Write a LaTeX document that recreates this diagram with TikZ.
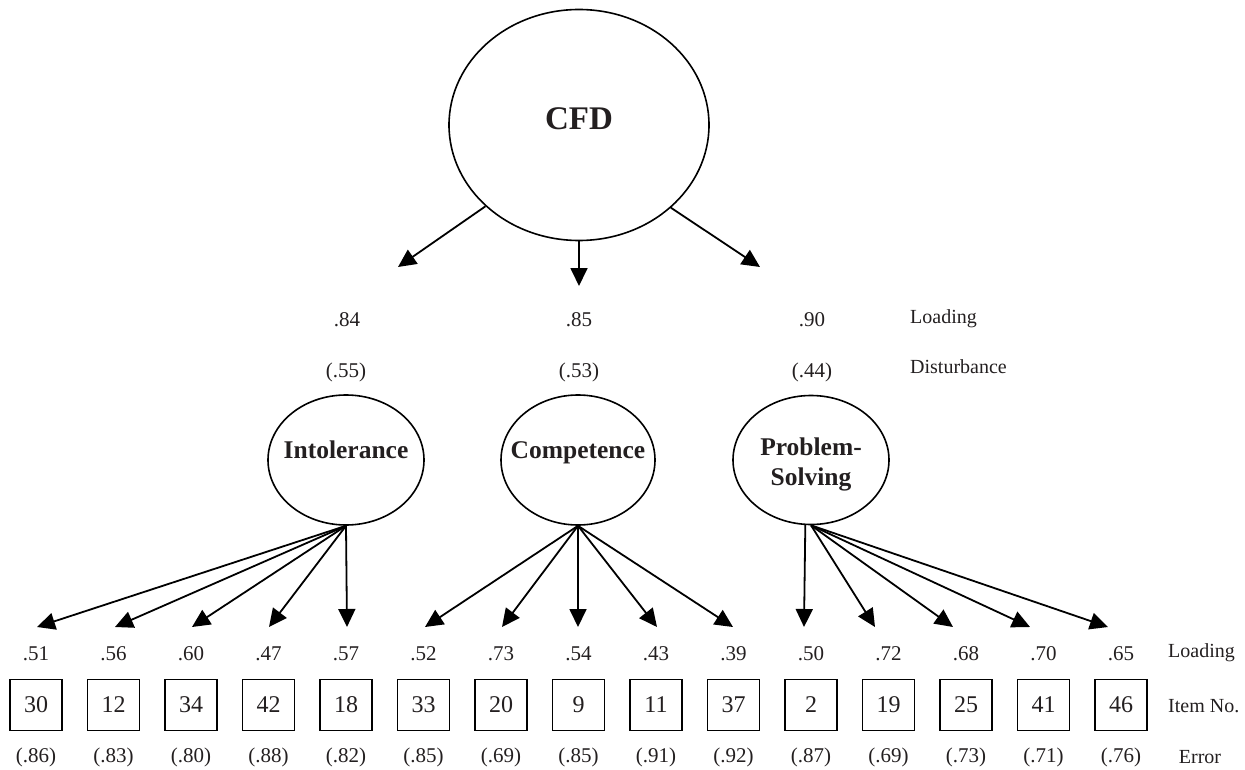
\documentclass[tikz,border=0pt]{standalone}
\usepackage{fontspec}
\setmainfont{Liberation Serif}
\usetikzlibrary{shapes.geometric,arrows.meta}
\definecolor{ink}{HTML}{231F20}
\begin{document}
\begin{tikzpicture}[x=1pt,y=-1pt,
  lat/.style={ellipse,draw,line width=1.6pt,inner sep=0pt},
  item/.style={rectangle,draw,line width=1.6pt,minimum width=52pt,minimum height=51pt,inner sep=0pt,font=\fontsize{24}{28}\selectfont,text=ink},
  num/.style={font=\fontsize{21}{25}\selectfont,text=ink,inner sep=0pt},
  lbl/.style={font=\fontsize{20}{24}\selectfont,text=ink,inner sep=0pt},
  lname/.style={font=\fontsize{25.5}{30}\bfseries\selectfont,text=ink,align=center,inner sep=0pt},
  arr/.style={line width=1.8pt,-{Triangle[length=18pt,width=17pt]}}
]
\useasboundingbox (0,0) rectangle (1245,770);

% top factor
\node[lat,minimum width=260pt,minimum height=231pt] (cfd) at (579,125) {};
\node[font=\fontsize{33}{38}\bfseries\selectfont,text=ink] (cfdt) at (579,119) {CFD};

% first-order factors
\node[lat,minimum width=156pt,minimum height=130pt] (int) at (346,460) {};
\node[lname] (intt) at (346,450) {Intolerance};
\node[lat,minimum width=154pt,minimum height=130pt] (com) at (578,460) {};
\node[lname] (comt) at (578,453) {Competence};
\node[lat,minimum width=156pt,minimum height=129pt] (ps) at (811,460) {};
\node[lname] (pst) at (811,464) {Problem-\\Solving};

% arrows from CFD
\coordinate (t1) at (398,267);
\coordinate (t2) at (579,286);
\coordinate (t3) at (760,267);
\draw[arr] (cfd.221.4) -- (t1);
\draw[arr] (cfd.south) -- (t2);
\draw[arr] (cfd.318.6) -- (t3);

% upper labels
\node[num] (l84) at (347,320) {.84};
\node[num] (l85) at (579,320) {.85};
\node[num] (l90) at (812,320) {.90};
\node[num] (d55) at (346,372) {(.55)};
\node[num] (d53) at (579,372) {(.53)};
\node[num] (d44) at (812,372) {(.44)};
\node[lbl,anchor=west] (loadU) at (910,319) {Loading};
\node[lbl,anchor=west] (dist) at (910,367) {Disturbance};

% arrow tips above items
\foreach \i/\x in {1/37,2/115,3/192,4/269,5/347,6/425,7/502,8/578,9/657,10/733,11/804,12/875,13/953,14/1030,15/1108}
  \coordinate (a\i) at (\x,627);

\foreach \i in {1,...,5} \draw[arr] (int.south) -- (a\i);
\foreach \i in {6,...,10} \draw[arr] (com.south) -- (a\i);
\draw[arr] (ps.265) -- (a11);
\foreach \i in {12,...,15} \draw[arr] (ps.south) -- (a\i);

% items
\foreach \i/\ld/\it/\er [evaluate=\i as \xx using 36+77.5*(\i-1)] in
  {1/.51/30/(.86), 2/.56/12/(.83), 3/.60/34/(.80), 4/.47/42/(.88), 5/.57/18/(.82),
   6/.52/33/(.85), 7/.73/20/(.69), 8/.54/9/(.85), 9/.43/11/(.91), 10/.39/37/(.92),
   11/.50/2/(.87), 12/.72/19/(.69), 13/.68/25/(.73), 14/.70/41/(.71), 15/.65/46/(.76)}
{
  \node[num] (l\i) at (\xx,654) {\ld};
  \node[item] (b\i) at (\xx,705) {\it};
  \node[num] (e\i) at (\xx,757) {\er};
}
\node[lbl,anchor=west] (loadL) at (1168,653) {Loading};
\node[lbl,anchor=west] (itemL) at (1168,706) {Item No.};
\node[lbl] (errL) at (1200,757) {Error};
\end{tikzpicture}
\end{document}
